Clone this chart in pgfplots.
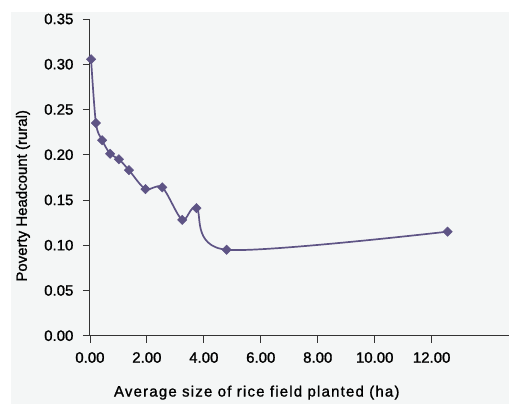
\documentclass[border=0pt]{standalone}
\usepackage{pgfplots}
\pgfplotsset{compat=1.18}
\usepackage{fontspec}
\setmainfont{Liberation Sans}[FakeBold=1.2]
\definecolor{bgc}{HTML}{F4F6F6}
\definecolor{linec}{HTML}{5E5485}
\begin{document}
\begin{tikzpicture}[x=1pt,y=1pt]
\fill[white] (0,0) rectangle (509,404);
\fill[bgc] (11,0) rectangle (509,392);
\begin{axis}[
  at={(90pt,68pt)}, anchor=origin,
  scale only axis, width=419pt, height=317pt,
  xmin=0, xmax=14.7, ymin=0, ymax=0.35,
  axis lines=left, axis line style={-, black!80, line width=0.9pt},
  xtick={0,2,...,12}, ytick={0,0.05,...,0.35},
  tick align=outside, major tick length=7pt,
  tick style={black!80, line width=0.8pt},
  /pgf/number format/assume math mode=true,
  /pgf/number format/.cd, fixed, fixed zerofill, precision=2,
  /pgfplots/.cd,
  ticklabel style={font=\fontsize{15}{17}\selectfont},
  yticklabel style={xshift=-6pt},
  xticklabel style={yshift=-6pt},
  clip=false,
]
\addplot[color=linec, line width=1.7pt, smooth, tension=0.5,
  mark=square*, mark size=3.3pt, mark options={fill=linec, draw=linec, line width=0.5pt, rotate=45}]
  coordinates {
  (0.04,0.3055) (0.21,0.235) (0.43,0.216) (0.71,0.201) (1.02,0.195)
  (1.37,0.183) (1.95,0.162) (2.54,0.164) (3.24,0.128) (3.74,0.141)
  (4.80,0.095) (12.56,0.115)
  };
\end{axis}
\node[rotate=90, font=\fontsize{15}{17}\selectfont] at (23,208) {Poverty Headcount (rural)};
\node[font=\fontsize{15}{17}\selectfont\addfontfeatures{LetterSpace=8}] at (257,11) {Average size of rice field planted (ha)};
\end{tikzpicture}
\end{document}
